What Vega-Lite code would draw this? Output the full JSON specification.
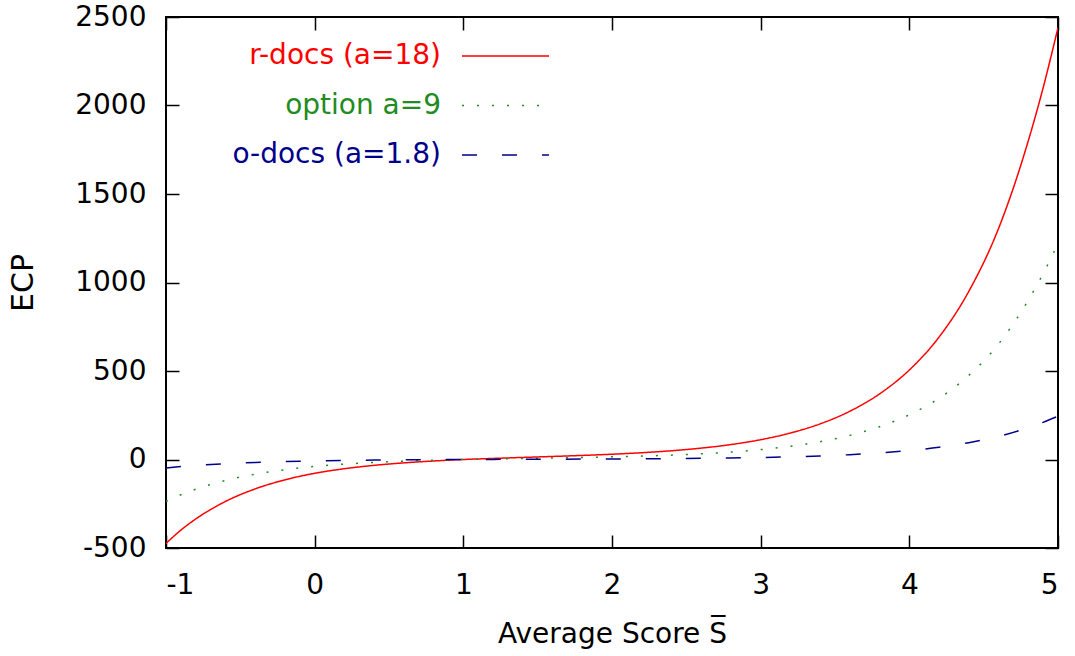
{
  "$schema": "https://vega.github.io/schema/vega-lite/v6.json",
  "width": 892,
  "height": 531,
  "autosize": {"type": "none"},
  "padding": {"left": 166, "top": 17, "right": 17, "bottom": 108},
  "background": "white",
  "datasets": {
    "curves": [
      {"S": -1.0, "ECP": -474, "series": "r-docs (a=18)"},
      {"S": -0.9, "ECP": -399, "series": "r-docs (a=18)"},
      {"S": -0.8, "ECP": -336, "series": "r-docs (a=18)"},
      {"S": -0.6, "ECP": -237, "series": "r-docs (a=18)"},
      {"S": -0.4, "ECP": -166, "series": "r-docs (a=18)"},
      {"S": -0.2, "ECP": -115, "series": "r-docs (a=18)"},
      {"S": 0.0, "ECP": -78, "series": "r-docs (a=18)"},
      {"S": 0.2, "ECP": -52, "series": "r-docs (a=18)"},
      {"S": 0.4, "ECP": -33, "series": "r-docs (a=18)"},
      {"S": 0.6, "ECP": -19, "series": "r-docs (a=18)"},
      {"S": 0.8, "ECP": -8.4, "series": "r-docs (a=18)"},
      {"S": 1.0, "ECP": 0, "series": "r-docs (a=18)"},
      {"S": 1.2, "ECP": 6, "series": "r-docs (a=18)"},
      {"S": 1.4, "ECP": 11.7, "series": "r-docs (a=18)"},
      {"S": 1.6, "ECP": 17.2, "series": "r-docs (a=18)"},
      {"S": 1.8, "ECP": 23, "series": "r-docs (a=18)"},
      {"S": 2.0, "ECP": 29.8, "series": "r-docs (a=18)"},
      {"S": 2.2, "ECP": 38.3, "series": "r-docs (a=18)"},
      {"S": 2.4, "ECP": 49.4, "series": "r-docs (a=18)"},
      {"S": 2.6, "ECP": 64.3, "series": "r-docs (a=18)"},
      {"S": 2.8, "ECP": 84.4, "series": "r-docs (a=18)"},
      {"S": 3.0, "ECP": 111.9, "series": "r-docs (a=18)"},
      {"S": 3.2, "ECP": 149.6, "series": "r-docs (a=18)"},
      {"S": 3.4, "ECP": 201.4, "series": "r-docs (a=18)"},
      {"S": 3.6, "ECP": 272.7, "series": "r-docs (a=18)"},
      {"S": 3.8, "ECP": 370.7, "series": "r-docs (a=18)"},
      {"S": 4.0, "ECP": 505.8, "series": "r-docs (a=18)"},
      {"S": 4.2, "ECP": 691.7, "series": "r-docs (a=18)"},
      {"S": 4.4, "ECP": 950, "series": "r-docs (a=18)"},
      {"S": 4.6, "ECP": 1305, "series": "r-docs (a=18)"},
      {"S": 4.8, "ECP": 1800, "series": "r-docs (a=18)"},
      {"S": 4.9, "ECP": 2100, "series": "r-docs (a=18)"},
      {"S": 5.0, "ECP": 2440, "series": "r-docs (a=18)"},

      {"S": -1.0, "ECP": -237, "series": "option a=9"},
      {"S": -0.9, "ECP": -199.5, "series": "option a=9"},
      {"S": -0.8, "ECP": -168, "series": "option a=9"},
      {"S": -0.6, "ECP": -118.5, "series": "option a=9"},
      {"S": -0.4, "ECP": -83, "series": "option a=9"},
      {"S": -0.2, "ECP": -57.5, "series": "option a=9"},
      {"S": 0.0, "ECP": -39, "series": "option a=9"},
      {"S": 0.2, "ECP": -26, "series": "option a=9"},
      {"S": 0.4, "ECP": -16.5, "series": "option a=9"},
      {"S": 0.6, "ECP": -9.5, "series": "option a=9"},
      {"S": 0.8, "ECP": -4.2, "series": "option a=9"},
      {"S": 1.0, "ECP": 0, "series": "option a=9"},
      {"S": 1.2, "ECP": 3, "series": "option a=9"},
      {"S": 1.4, "ECP": 5.85, "series": "option a=9"},
      {"S": 1.6, "ECP": 8.6, "series": "option a=9"},
      {"S": 1.8, "ECP": 11.5, "series": "option a=9"},
      {"S": 2.0, "ECP": 14.9, "series": "option a=9"},
      {"S": 2.2, "ECP": 19.15, "series": "option a=9"},
      {"S": 2.4, "ECP": 24.7, "series": "option a=9"},
      {"S": 2.6, "ECP": 32.15, "series": "option a=9"},
      {"S": 2.8, "ECP": 42.2, "series": "option a=9"},
      {"S": 3.0, "ECP": 55.95, "series": "option a=9"},
      {"S": 3.2, "ECP": 74.8, "series": "option a=9"},
      {"S": 3.4, "ECP": 100.7, "series": "option a=9"},
      {"S": 3.6, "ECP": 136.35, "series": "option a=9"},
      {"S": 3.8, "ECP": 185.35, "series": "option a=9"},
      {"S": 4.0, "ECP": 252.9, "series": "option a=9"},
      {"S": 4.2, "ECP": 345.85, "series": "option a=9"},
      {"S": 4.4, "ECP": 475, "series": "option a=9"},
      {"S": 4.6, "ECP": 652.5, "series": "option a=9"},
      {"S": 4.8, "ECP": 900, "series": "option a=9"},
      {"S": 4.9, "ECP": 1050, "series": "option a=9"},
      {"S": 5.0, "ECP": 1220, "series": "option a=9"},

      {"S": -1.0, "ECP": -47.4, "series": "o-docs (a=1.8)"},
      {"S": -0.9, "ECP": -39.9, "series": "o-docs (a=1.8)"},
      {"S": -0.8, "ECP": -33.6, "series": "o-docs (a=1.8)"},
      {"S": -0.6, "ECP": -23.7, "series": "o-docs (a=1.8)"},
      {"S": -0.4, "ECP": -16.6, "series": "o-docs (a=1.8)"},
      {"S": -0.2, "ECP": -11.5, "series": "o-docs (a=1.8)"},
      {"S": 0.0, "ECP": -7.8, "series": "o-docs (a=1.8)"},
      {"S": 0.2, "ECP": -5.2, "series": "o-docs (a=1.8)"},
      {"S": 0.4, "ECP": -3.3, "series": "o-docs (a=1.8)"},
      {"S": 0.6, "ECP": -1.9, "series": "o-docs (a=1.8)"},
      {"S": 0.8, "ECP": -0.84, "series": "o-docs (a=1.8)"},
      {"S": 1.0, "ECP": 0, "series": "o-docs (a=1.8)"},
      {"S": 1.2, "ECP": 0.6, "series": "o-docs (a=1.8)"},
      {"S": 1.4, "ECP": 1.17, "series": "o-docs (a=1.8)"},
      {"S": 1.6, "ECP": 1.72, "series": "o-docs (a=1.8)"},
      {"S": 1.8, "ECP": 2.3, "series": "o-docs (a=1.8)"},
      {"S": 2.0, "ECP": 2.98, "series": "o-docs (a=1.8)"},
      {"S": 2.2, "ECP": 3.83, "series": "o-docs (a=1.8)"},
      {"S": 2.4, "ECP": 4.94, "series": "o-docs (a=1.8)"},
      {"S": 2.6, "ECP": 6.43, "series": "o-docs (a=1.8)"},
      {"S": 2.8, "ECP": 8.44, "series": "o-docs (a=1.8)"},
      {"S": 3.0, "ECP": 11.19, "series": "o-docs (a=1.8)"},
      {"S": 3.2, "ECP": 14.96, "series": "o-docs (a=1.8)"},
      {"S": 3.4, "ECP": 20.14, "series": "o-docs (a=1.8)"},
      {"S": 3.6, "ECP": 27.27, "series": "o-docs (a=1.8)"},
      {"S": 3.8, "ECP": 37.07, "series": "o-docs (a=1.8)"},
      {"S": 4.0, "ECP": 50.58, "series": "o-docs (a=1.8)"},
      {"S": 4.2, "ECP": 69.17, "series": "o-docs (a=1.8)"},
      {"S": 4.4, "ECP": 95, "series": "o-docs (a=1.8)"},
      {"S": 4.6, "ECP": 130.5, "series": "o-docs (a=1.8)"},
      {"S": 4.8, "ECP": 180, "series": "o-docs (a=1.8)"},
      {"S": 4.9, "ECP": 210, "series": "o-docs (a=1.8)"},
      {"S": 5.0, "ECP": 244, "series": "o-docs (a=1.8)"}
    ]
  },
  "data": {"name": "curves"},
  "layer": [
    {
      "mark": {"type": "line", "strokeWidth": 1.5, "interpolate": "monotone", "clip": true, "strokeCap": "butt"},
      "encoding": {
        "x": {
          "field": "S", "type": "quantitative",
          "scale": {"domain": [-1, 5], "nice": false, "zero": false},
          "axis": {
            "orient": "bottom", "values": [-1, 0, 1, 2, 3, 4, 5], "format": "d",
            "labelExpr": "replace(datum.label, '\u2212', '-')",
            "title": "Average Score S\u0305", "tickSize": -13, "labelPadding": 36,
            "titlePadding": 21, "domain": false, "grid": false
          }
        },
        "y": {
          "field": "ECP", "type": "quantitative",
          "scale": {"domain": [-500, 2500], "nice": false, "zero": false},
          "axis": {
            "orient": "left", "values": [-500, 0, 500, 1000, 1500, 2000, 2500], "format": "d",
            "labelExpr": "replace(datum.label, '\u2212', '-')",
            "title": "ECP", "tickSize": -13, "labelPadding": 33, "titlePadding": 36,
            "titleFontSize": 30, "domain": false, "grid": false
          }
        },
        "color": {
          "field": "series", "type": "nominal",
          "scale": {"domain": ["r-docs (a=18)", "option a=9", "o-docs (a=1.8)"], "range": ["#ff0000", "#228b22", "#00008b"]},
          "legend": {
            "title": null, "orient": "none", "legendX": 295, "legendY": 15,
            "symbolType": "stroke", "symbolSize": 7569, "symbolStrokeWidth": 1.5,
            "labelFont": "DejaVu Sans", "labelFontSize": 28, "labelAlign": "right", "labelBaseline": "middle",
            "labelOffset": -109, "clipHeight": 48, "rowPadding": 1.5, "padding": 0, "labelLimit": 400,
            "encode": {
              "labels": {"update": {"fill": {"scale": "color", "field": "value"}}},
              "entries": {"update": {"width": {"value": 89}, "height": {"value": 48}}}
            }
          }
        },
        "strokeDash": {
          "field": "series", "type": "nominal",
          "scale": {"domain": ["r-docs (a=18)", "option a=9", "o-docs (a=1.8)"], "range": [[1, 0], [2, 13], [15, 25]]},
          "legend": {
            "title": null, "orient": "none", "legendX": 295, "legendY": 15,
            "symbolType": "stroke", "symbolSize": 7569, "symbolStrokeWidth": 1.5,
            "labelFont": "DejaVu Sans", "labelFontSize": 28, "labelAlign": "right", "labelBaseline": "middle",
            "labelOffset": -109, "clipHeight": 48, "rowPadding": 1.5, "padding": 0, "labelLimit": 400,
            "encode": {
              "labels": {"update": {"fill": {"scale": "color", "field": "value"}}},
              "entries": {"update": {"width": {"value": 89}, "height": {"value": 48}}}
            }
          }
        }
      }
    },
    {
      "mark": {"type": "point", "opacity": 0},
      "encoding": {
        "x": {
          "field": "S", "type": "quantitative",
          "axis": {"orient": "top", "values": [-1, 0, 1, 2, 3, 4, 5], "labels": false, "title": null, "tickSize": -13, "domain": false, "grid": false}
        },
        "y": {
          "field": "ECP", "type": "quantitative",
          "axis": {"orient": "right", "values": [-500, 0, 500, 1000, 1500, 2000, 2500], "labels": false, "title": null, "tickSize": -13, "domain": false, "grid": false}
        }
      }
    }
  ],
  "resolve": {"axis": {"x": "independent", "y": "independent"}},
  "config": {
    "view": {"stroke": "black", "strokeWidth": 2},
    "font": "DejaVu Sans",
    "axis": {
      "labelFont": "DejaVu Sans", "labelFontSize": 28, "labelColor": "black",
      "titleFont": "DejaVu Sans", "titleFontSize": 28, "titleFontWeight": "normal", "titleColor": "black",
      "tickColor": "black", "tickWidth": 1.5
    }
  }
}
